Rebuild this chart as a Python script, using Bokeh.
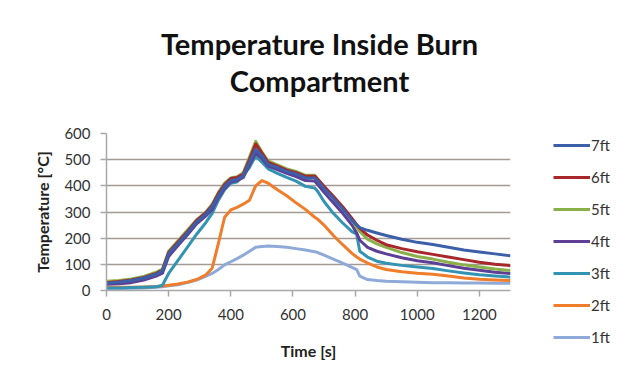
from bokeh.plotting import figure
from bokeh.models import Range1d, Legend, LegendItem, FixedTicker, Div
from bokeh.layouts import row, column
from bokeh.embed import file_html
from bokeh.resources import INLINE

# ---- data ----
time_s = [0, 40, 80, 120, 160, 180, 200, 230, 260, 290, 320, 340, 360, 380, 400, 420, 440, 460,
          480, 500, 520, 550, 580, 610, 640, 670, 680, 700, 730, 760, 790, 805, 815, 840, 870,
          900, 950, 1000, 1050, 1100, 1150, 1200, 1250, 1300]

ft7 = [28, 32, 38, 48, 62, 75, 140, 180, 220, 262, 292, 320, 362, 398, 420, 425, 438, 490,
       540, 515, 482, 470, 455, 445, 430, 430, 418, 390, 352, 312, 268, 250, 240, 230, 220,
       210, 196, 184, 176, 165, 155, 147, 140, 133]
ft6 = [30, 34, 40, 50, 65, 78, 145, 185, 225, 268, 298, 325, 370, 405, 428, 432, 445, 500,
       560, 525, 490, 475, 460, 450, 437, 437, 425, 398, 360, 320, 275, 252, 238, 212, 192,
       175, 160, 148, 138, 128, 118, 108, 100, 95]
ft5 = [35, 38, 44, 54, 70, 82, 150, 190, 230, 270, 300, 330, 375, 410, 430, 435, 450, 510,
       570, 530, 495, 480, 465, 455, 440, 440, 425, 395, 355, 315, 270, 242, 226, 196, 178,
       165, 145, 130, 120, 108, 98, 90, 82, 76]
ft4 = [24, 26, 30, 40, 55, 66, 130, 172, 212, 255, 285, 310, 355, 390, 415, 420, 432, 480,
       525, 505, 475, 462, 448, 435, 420, 418, 405, 375, 335, 295, 250, 220, 192, 165, 150,
       140, 125, 114, 106, 95, 85, 77, 70, 65]
ft3 = [10, 10, 11, 12, 14, 20, 65, 115, 165, 215, 260, 295, 345, 385, 410, 415, 440, 470,
       515, 490, 465, 448, 432, 418, 398, 392, 378, 340, 295, 258, 225, 215, 150, 128, 112,
       104, 96, 90, 84, 75, 67, 60, 55, 51]
ft2 = [12, 12, 12, 13, 15, 17, 20, 25, 32, 42, 60, 85, 180, 280, 308, 318, 330, 345,
       400, 420, 410, 385, 362, 335, 310, 280, 272, 250, 210, 175, 142, 128, 120, 105, 90,
       80, 72, 66, 62, 55, 48, 43, 40, 38]
ft1 = [8, 8, 9, 10, 12, 14, 18, 22, 30, 40, 55, 65, 80, 98, 110, 122, 135, 150,
       165, 168, 170, 168, 165, 160, 155, 148, 145, 135, 120, 105, 88, 80, 55, 42, 38,
       35, 33, 32, 30, 30, 29, 29, 28, 28]

series_names = ["7ft", "6ft", "5ft", "4ft", "3ft", "2ft", "1ft"]
series_values = [ft7, ft6, ft5, ft4, ft3, ft2, ft1]
series_colors = ["#3b5fa8", "#a8272b", "#8ab04a", "#5e3f96", "#3393b3", "#f07d2a", "#8fa9d9"]

x_ticks = [0, 200, 400, 600, 800, 1000, 1200]
y_ticks = [0, 100, 200, 300, 400, 500, 600]
title_lines = ["Temperature Inside Burn", "Compartment"]

FONT = "Lato"
TOTAL_W = 628
TITLE_H = 100
W, H = 540, 381 - TITLE_H
LW = TOTAL_W - W

# ---- title block ----
title = Div(text=("<div style=\"width:%dpx;height:%dpx;box-sizing:border-box;padding-top:25px;"
                  "padding-left:11px;text-align:center;font-family:Lato;font-weight:bold;"
                  "font-size:29px;line-height:37px;color:#111111;\">%s</div>")
                 % (TOTAL_W, TITLE_H, "<br>".join(title_lines)),
            width=TOTAL_W, height=TITLE_H, margin=(0, 0, 0, 0))

# ---- main chart ----
p = figure(width=W, height=H, output_backend="svg", toolbar_location=None,
           x_range=Range1d(0, 1300), y_range=Range1d(0, 600),
           min_border_left=106, min_border_right=W - 510, min_border_top=133 - TITLE_H,
           min_border_bottom=381 - 290)
p.outline_line_color = None
p.background_fill_color = "white"
p.border_fill_color = "white"
p.margin = (0, 0, 0, 0)

for name, vals, col in reversed(list(zip(series_names, series_values, series_colors))):
    p.line(time_s, vals, line_color=col, line_width=3, line_join="round")

p.xgrid.grid_line_color = None
p.ygrid.ticker = FixedTicker(ticks=y_ticks[1:])
p.ygrid.grid_line_color = "#a39a94"
p.ygrid.grid_line_width = 1.5

p.xaxis.ticker = FixedTicker(ticks=x_ticks)
p.yaxis.ticker = FixedTicker(ticks=y_ticks)
for ax in (p.xaxis[0], p.yaxis[0]):
    ax.axis_line_color = "#a8a8a8"
    ax.axis_line_width = 1.5
    ax.major_tick_line_color = "#a8a8a8"
    ax.major_tick_line_width = 1.5
    ax.major_tick_out = 6
    ax.major_tick_in = 0
    ax.minor_tick_line_color = None
    ax.major_label_text_font = FONT
    ax.major_label_text_font_size = "15px"
    ax.major_label_text_color = "#333333"
    ax.axis_label_text_font = FONT
    ax.axis_label_text_font_style = "bold"
    ax.axis_label_text_font_size = "16px"
    ax.axis_label_text_color = "#222222"

p.xaxis.axis_label = "Time [s]"
p.xaxis.major_label_standoff = 12
p.xaxis.axis_label_standoff = 18
p.yaxis.axis_label = "Temperature [°C]"
p.yaxis.major_label_standoff = 10
p.yaxis.axis_label_standoff = 9

# ---- legend: companion figure, legend in its left side panel ----
lf = figure(width=LW, height=H, output_backend="svg", toolbar_location=None,
            x_range=Range1d(-20, -10), y_range=Range1d(-20, -10),
            x_axis_type=None, y_axis_type=None,
            min_border_left=0, min_border_right=0, min_border_top=0, min_border_bottom=0)
lf.outline_line_color = None
lf.grid.visible = False
lf.margin = (0, 0, 0, 0)
items = []
for name, vals, col in zip(series_names, series_values, series_colors):
    r = lf.line(time_s, vals, line_color=col, line_width=3)
    items.append(LegendItem(label=name, renderers=[r]))

legend = Legend(items=items, location=(13, -57), glyph_width=37, glyph_height=20, spacing=12,
                label_standoff=1, padding=0, margin=0, border_line_color=None,
                background_fill_alpha=0, label_text_font=FONT, label_text_font_size="15px",
                label_text_color="#333333", label_height=20)
lf.add_layout(legend, "left")

layout = column(title, row(p, lf, spacing=0), spacing=0)
open("out.html", "w").write(file_html(layout, INLINE))
